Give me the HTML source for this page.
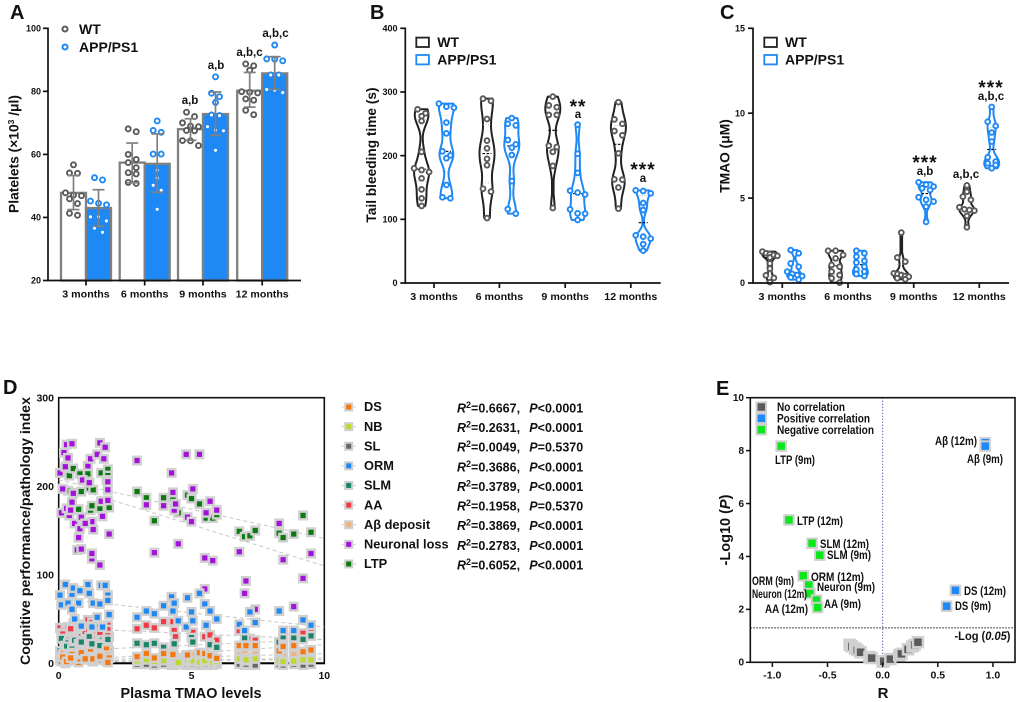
<!DOCTYPE html>
<html lang="en">
<head>
<meta charset="utf-8">
<title>TMAO, platelets and cognitive correlations</title>
<style>
html,body{margin:0;padding:0;background:#fff;}
svg{display:block;}
text{font-family:"Liberation Sans",sans-serif;font-weight:bold;fill:#111;}
</style>
</head>
<body>
<svg id="fig" xmlns="http://www.w3.org/2000/svg" width="1020" height="702" viewBox="0 0 1020 702">
  <rect width="1020" height="702" fill="#fff"/>
  <g id="panelA"></g>
  <g id="panelB"></g>
  <g id="panelC"></g>
  <g id="panelD"></g>
  <g id="panelE"></g>

  <text x="10" y="19" font-size="20">A</text>
  <text x="370" y="19" font-size="20">B</text>
  <text x="720" y="19" font-size="20">C</text>
  <text x="3" y="394" font-size="20">D</text>
  <text x="716" y="395" font-size="20">E</text>

  <text transform="translate(18.5,154) rotate(-90)" text-anchor="middle" font-size="13.8">Platelets (×10<tspan font-size="8.5" dy="-4.5">3</tspan><tspan dy="4.5"> /μl)</tspan></text>
  <text transform="translate(376,155) rotate(-90)" text-anchor="middle" font-size="13.7">Tail bleeding time (s)</text>
  <text transform="translate(729.5,156) rotate(-90)" text-anchor="middle" font-size="13.8">TMAO (μM)</text>
  <text transform="translate(30,531) rotate(-90)" text-anchor="middle" font-size="14" textLength="268" lengthAdjust="spacingAndGlyphs">Cognitive performance/pathology index</text>
  <text x="191" y="698" text-anchor="middle" font-size="14.5" textLength="141" lengthAdjust="spacingAndGlyphs">Plasma TMAO levels</text>
  <text transform="translate(730,530) rotate(-90)" text-anchor="middle" font-size="14.5">-Log10 (<tspan font-style="italic">P</tspan>)</text>
  <text x="883" y="698" text-anchor="middle" font-size="15">R</text>

  <g font-size="11.5" text-anchor="middle" fill="#111">
    <text x="190" y="104">a,b</text>
    <text x="216" y="69">a,b</text>
    <text x="249.5" y="56">a,b,c</text>
    <text x="275.5" y="37">a,b,c</text>
    <text x="578" y="118">a</text>
    <text x="643" y="182">a</text>
    <text x="925" y="175">a,b</text>
    <text x="991" y="100">a,b,c</text>
    <text x="966" y="178">a,b,c</text>
  </g>
  <g font-size="19" text-anchor="middle">
    <text x="578" y="113" letter-spacing="1">**</text>
    <text x="643" y="176" letter-spacing="1">***</text>
    <text x="925" y="169" letter-spacing="1">***</text>
    <text x="991" y="94" letter-spacing="1">***</text>
  </g>

  <g font-size="11.5">
    <text x="775" y="464" textLength="40" lengthAdjust="spacingAndGlyphs">LTP (9m)</text>
    <text x="935" y="445" textLength="42" lengthAdjust="spacingAndGlyphs">Aβ (12m)</text>
    <text x="967" y="463" textLength="36" lengthAdjust="spacingAndGlyphs">Aβ (9m)</text>
    <text x="797" y="525" textLength="46" lengthAdjust="spacingAndGlyphs">LTP (12m)</text>
    <text x="820" y="548" textLength="49" lengthAdjust="spacingAndGlyphs">SLM (12m)</text>
    <text x="827" y="559" textLength="44" lengthAdjust="spacingAndGlyphs">SLM (9m)</text>
    <text x="811" y="581" textLength="53" lengthAdjust="spacingAndGlyphs">ORM (12m)</text>
    <text x="752" y="585" textLength="42" lengthAdjust="spacingAndGlyphs">ORM (9m)</text>
    <text x="817" y="591" textLength="58" lengthAdjust="spacingAndGlyphs">Neuron (9m)</text>
    <text x="752" y="598" textLength="55" lengthAdjust="spacingAndGlyphs">Neuron (12m)</text>
    <text x="824" y="608" textLength="37" lengthAdjust="spacingAndGlyphs">AA (9m)</text>
    <text x="765" y="613" textLength="43" lengthAdjust="spacingAndGlyphs">AA (12m)</text>
    <text x="964" y="595" textLength="42" lengthAdjust="spacingAndGlyphs">DS (12m)</text>
    <text x="955" y="610" textLength="36" lengthAdjust="spacingAndGlyphs">DS (9m)</text>
    <text x="954.5" y="640" textLength="56" lengthAdjust="spacingAndGlyphs">-Log (<tspan font-style="italic">0.05</tspan>)</text>
    <text x="777" y="411" textLength="68" lengthAdjust="spacingAndGlyphs">No correlation</text>
    <text x="777" y="422.5" textLength="93" lengthAdjust="spacingAndGlyphs">Positive correlation</text>
    <text x="777" y="434" textLength="97" lengthAdjust="spacingAndGlyphs">Negative correlation</text>
  </g>
</svg>

<script>
/* ---------- Shared categories ---------- */
const months = ['3 months', '6 months', '9 months', '12 months'];

/* ---------- Panel A: platelets ---------- */
const aTicks = [20, 40, 60, 80, 100];
const aWtMeans = [47.8, 57.4, 68, 80.2];
const aAppMeans = [43, 57, 72.8, 85.7];
const aWtUpper = [53.3, 63.6, 71.3, 86];
const aWtLower = [42.5, 51, 64.5, 75];
const aAppUpper = [48.8, 66.5, 79.8, 91];
const aAppLower = [37.2, 48, 66, 80.6];
const aWtPoints = [
  [56.7, 54.1, 54, 47.8, 47.1, 46.9, 45.9, 44.4, 41.3, 40.7],
  [68.1, 67.2, 60, 58.4, 57.4, 55.8, 54.2, 53.8, 51.1, 50.8],
  [73.4, 72, 70, 69, 68.8, 67.6, 67.5, 64.4, 64.3, 62.8],
  [88.7, 88.1, 86.7, 79.9, 79.7, 79.5, 77.6, 77.2, 74, 72.6]
];
const aAppPoints = [
  [52.6, 51.9, 45.2, 44.5, 44, 40.2, 40.2, 38.9, 36.6, 35.3],
  [70.6, 67.6, 67, 60.1, 60.1, 55, 52.5, 50.2, 48.6, 42.6],
  [84.6, 79.4, 78.3, 76.5, 72.5, 72.3, 68.8, 67.7, 67.5, 61.3],
  [94.7, 90.3, 90.2, 89.7, 85.2, 85.2, 80.6, 80.4, 79.6]
];

/* ---------- Panel B: tail bleeding time ---------- */
const bTicks = [0, 100, 200, 300, 400];
const bWt = [
  [272.8, 266.5, 262, 254.5, 206, 180, 177.5, 174.4, 164.4, 147, 133, 121],
  [289.5, 286, 257.6, 223.6, 211.5, 195, 185, 148, 143.5, 102],
  [292.7, 279, 276, 264, 264, 215.7, 213.6, 206, 184, 117.8],
  [284, 257, 250, 238.7, 232, 203.7, 162.8, 162.3, 150, 116.8]
];
const bApp = [
  [281.7, 277, 275.4, 252, 235, 206.8, 200.5, 196, 154, 134.6, 133],
  [259, 250, 247.6, 224.6, 217.8, 212.6, 201, 160, 116, 109],
  [248.7, 203, 173, 145, 142, 139, 115.7, 109.4, 109, 99],
  [145.5, 144.5, 140.8, 125.6, 114.6, 74.9, 72.8, 69.6, 61, 50.8]
];

/* ---------- Panel C: TMAO ---------- */
const cTicks = [0, 5, 10, 15];
const cWt = [
  [1.85, 1.75, 1.7, 1.65, 1.6, 1.5, 1.15, 0.85, 0.45, 0.3, 0.05],
  [1.9, 1.9, 1.65, 1.45, 1.06, 0.96, 0.67, 0.47, 0.28, 0.02],
  [2.97, 1.5, 1.26, 0.57, 0.53, 0.47, 0.41, 0.37, 0.28, 0.22],
  [5.75, 5.38, 5.09, 4.9, 4.46, 4.34, 4.3, 4.26, 3.95, 3.28]
];
const cApp = [
  [1.94, 1.75, 1.15, 0.96, 0.67, 0.53, 0.47, 0.41, 0.33, 0.2],
  [1.9, 1.75, 1.55, 1.3, 1.2, 0.96, 0.8, 0.67, 0.53, 0.41],
  [5.93, 5.8, 5.68, 5.58, 5.48, 5.05, 4.9, 4.8, 4.5, 3.6],
  [10.37, 9.5, 9.25, 8.86, 8.33, 7.4, 7.15, 7.05, 6.95, 6.76]
];

/* ---------- Panel D: correlation scatter ---------- */
const dXTicks = [0, 5, 10];
const dYTicks = [0, 100, 200, 300];
const tmao = [
  0.05,0.10,0.20,0.25,0.30,0.35,0.40,0.50,0.55,0.60,
  0.70,0.75,0.80,0.85,0.90,1.10,1.15,1.20,1.25,1.30,
  1.45,1.55,1.60,1.65,1.70,1.75,1.80,1.85,1.85,1.90,
  0.15,0.30,0.50,0.85,1.25,1.25,1.55,1.85,0.45,1.00,
  2.95,3.30,3.60,3.95,4.25,4.30,4.35,4.40,4.50,4.80,
  4.85,5.00,5.05,5.30,5.50,5.55,5.70,5.80,5.95,5.50,
  6.80,7.00,7.05,7.20,7.40,8.30,8.45,8.85,9.20,9.50
];
const dsValues = [
  4,2,11,0,6,9,3,12,3,7,
  6,1,5,10,14,4,8,13,7.5,2,
  5,11,4,8,9,3,16,4,9,6,
  7,2,10,12,3,5,8,1,6,5,
  7.5,11,6,11,null,10,null,null,null,9,
  9.4,null,null,12,11,null,8.6,null,5.6,null,
  20,null,20,null,20,14,19,20,13,15
];
const nbValues = [
  null,null,null,null,null,null,null,null,null,null,
  null,null,null,null,null,null,null,null,null,null,
  null,null,null,null,null,null,null,null,null,null,
  null,null,null,null,null,null,null,null,null,null,
  2.6,4,2,3,1,3,2,4,1,2,
  4,2,3,1,4,2,3,1,2,3,
  5,3,4,null,5,3,2,2.6,4,4
];
const slValues = [
  null,null,null,null,null,null,null,null,null,null,
  null,null,null,null,null,null,null,null,null,null,
  null,null,null,null,null,null,null,null,null,null,
  null,null,null,null,null,null,null,null,null,null,
  -1,-1,-2,-1,-2,-1,-2,-1,-1,-2,
  -1,-2,-1,-2,-1,-2,-1,-2,-1,-1,
  -1,-2,-1,null,-2,-1,-2,-1,-2,-1
];
const ormValues = [
  77,66,null,89,null,68,null,78,85,50,
  null,68,82,42,null,89,79,null,41,68,
  52,67,88,41,null,88,null,77,71,55,
  null,null,61,null,null,null,null,null,null,null,
  52,59,56,65,75,59,68,null,48,41,
  74,58,48,79,67,43,59,null,50,null,
  44,37,null,58,46,59,37,37,49,43
];
const slmValues = [
  14,28,11,20,18,23,9,16,21,26,
  12,22,19,25,15,10,30,19,13,16,
  17,11,21,26,22,9,24,25,18,14,
  10,19,16,24,22,12,20,27,8,12,
  22.6,21,22.6,18,null,null,22,null,null,null,
  null,29,24,null,null,null,21,null,18,null,
  null,29,null,20,null,24,30,29,27,31
];
const aaValues = [
  40,34,27,38,32,41,29,34,45,36,
  28,35,39,31,44,49,37,30,46,32,
  41,29,32,36,27,38,34,43,38,30,
  33,26,37,30,42,28,35,31,39,36,
  39,43,40,47,null,47,37,30,null,null,
  null,34,35,null,30,null,32,null,26,null,
  37,null,null,28,26,24,29,30,34,36
];
const abetaValues = [
  null,null,null,null,null,null,null,null,null,null,
  null,null,null,null,null,null,null,null,null,null,
  null,null,null,null,null,null,null,null,null,null,
  null,null,null,null,null,null,null,null,null,null,
  5,8,4,7,5,12,9,6,4,7,
  8,5,10,7,6,9,4,7,5,8,
  9,11,6,null,10,9,8,10,7,5
];
const neuronValues = [
  215,170,238,222,247,232,167,248,192,158,
  128,142,152,165,207,223,204,231,118,151,
  236,249,183,166,231,244,207,205,196,146,
  197,175,182,129,124,160,111,184,173,158,
  229,179,125,178,215,193,173,180,135,236,
  165,160,197,236,119,170,183,116,173,84,
  126,79,93,null,61,158,117,64,96,124
];
const ltpValues = [
  null,null,null,null,null,195,212,null,220,null,
  null,174,214,194,null,214,198,173,null,196,
  null,175,215,null,null,null,null,219,212,176,
  null,null,null,null,178,null,null,null,null,null,
  194,187,161,187,null,186,null,null,170,null,
  190,186,null,180,null,164,null,164,168,null,
  149,143,null,144,150,147,142,146,167,148
];
const seriesNames = ['DS','NB','SL','ORM','SLM','AA','Aβ deposit','Neuronal loss','LTP'];
const seriesColors = ['#f5780f','#bcd92e','#666666','#1e88f5','#1b8468','#f23a45','#eeb380','#a511dc','#0a7a10'];
const seriesValues = [dsValues,nbValues,slValues,ormValues,slmValues,aaValues,abetaValues,neuronValues,ltpValues];
const fitAtZero = [3,1,3,73,14,40,3,203,207];
const fitAtTen = [21,6,4,41,27,27,11,110,141];
const rSquared = ['0.6667','0.2631','0.0049','0.3686','0.3789','0.1958','0.3869','0.2783','0.6052'];
const pValues = ['<0.0001','<0.0001','=0.5370','<0.0001','<0.0001','=0.5370','<0.0001','<0.0001','<0.0001'];

/* ---------- Panel E: volcano ---------- */
const eXTicks = [-1, -0.5, 0, 0.5, 1];
const eYTicks = [0, 2, 4, 6, 8, 10];
const noneR = [-0.3,-0.28,-0.25,-0.23,-0.2,-0.12,-0.1,0,0.01,0.07,0.15,0.17,0.23,0.27,0.29,0.32];
const noneP = [0.66,0.6,0.52,0.46,0.38,0.2,0.16,0.02,0.04,0.12,0.27,0.32,0.49,0.6,0.66,0.76];
const posR = [0.93,0.66,0.58,0.93];
const posP = [8.3,2.72,2.12,8.17];
const negR = [-0.92,-0.85,-0.64,-0.57,-0.72,-0.67,-0.66,-0.6,-0.59];
const negP = [8.17,5.38,4.5,4.05,3.27,2.92,2.6,2.35,2.07];
const pThreshold = 1.3;

/* ---------- Helpers ---------- */
const NS = 'http://www.w3.org/2000/svg';
const BLUE = '#1e88f5';
const GREY = '#808080';
const DOT_GREY = '#5a5a5a';
function mk(tag, attrs, parent) {
  const el = document.createElementNS(NS, tag);
  for (const k in attrs) el.setAttribute(k, attrs[k]);
  parent.appendChild(el);
  return el;
}
function label(parent, x, y, str, size, anchor) {
  const t = mk('text', {x: x, y: y, 'font-size': size, 'text-anchor': anchor || 'middle'}, parent);
  t.textContent = str;
  
  
  return t;
}
function line(parent, x1, y1, x2, y2, stroke, width, dash) {
  const l = mk('line', {x1: x1, y1: y1, x2: x2, y2: y2, stroke: stroke, 'stroke-width': width}, parent);
  if (dash) l.setAttribute('stroke-dasharray', dash);
  return l;
}
function linear(d0, d1, r0, r1) {
  return function (v) { return r0 + (v - d0) * (r1 - r0) / (d1 - d0); };
}
/* Prism-like binned dot placement: offsets depend only on the values. */
function binOffsets(values, toY, binPx, spacing, maxHalf) {
  const order = values.map(function (v, i) { return i; }).sort(function (a, b) { return values[b] - values[a]; });
  const offsets = new Array(values.length).fill(0);
  let i = 0;
  while (i < order.length) {
    const y0 = toY(values[order[i]]);
    let j = i;
    while (j < order.length && toY(values[order[j]]) - y0 < binPx) j++;
    const n = j - i;
    const step = n > 1 ? Math.min(spacing, 2 * maxHalf / (n - 1)) : 0;
    for (let k = 0; k < n; k++) offsets[order[i + k]] = (k - (n - 1) / 2) * step;
    i = j;
  }
  return offsets;
}
function dots(parent, cx, values, toY, stroke, binPx, spacing, maxHalf, r, name) {
  const offs = binOffsets(values, toY, binPx, spacing, maxHalf);
  values.forEach(function (v, i) {
    const c = mk('circle', {cx: cx + offs[i], cy: toY(v), r: r, fill: '#fff', stroke: stroke, 'stroke-width': 1.9}, parent);
    
    
  });
}
function quantile(sorted, q) {
  const p = (sorted.length - 1) * q, lo = Math.floor(p), hi = Math.ceil(p);
  return sorted[lo] + (sorted[hi] - sorted[lo]) * (p - lo);
}
function violin(parent, cx, values, toY, color, maxHalf, name) {
  const sorted = values.slice().sort(function (a, b) { return a - b; });
  const min = sorted[0], max = sorted[sorted.length - 1], h = (max - min) * 0.095, steps = 48;
  const dens = [];
  for (let i = 0; i <= steps; i++) {
    const y = min + (max - min) * i / steps;
    dens.push(values.reduce(function (s, v) { return s + Math.exp(-0.5 * Math.pow((y - v) / h, 2)); }, 0));
  }
  const peak = Math.max.apply(null, dens);
  const left = [], right = [];
  dens.forEach(function (d, i) {
    const y = toY(min + (max - min) * i / steps), w = Math.max(0.8, d / peak * maxHalf);
    left.push((cx - w).toFixed(2) + ',' + y.toFixed(2));
    right.unshift((cx + w).toFixed(2) + ',' + y.toFixed(2));
  });
  const shape = mk('path', {d: 'M' + left.concat(right).join('L') + 'Z', fill: '#fff', stroke: color, 'stroke-width': 2, 'stroke-linejoin': 'round'}, parent);
  
  
  const med = toY(quantile(sorted, 0.5));
  line(parent, cx - 4.5, med, cx + 4.5, med, '#000', 1.1, '2.5 1.5');
  line(parent, cx - 4, toY(quantile(sorted, 0.25)), cx + 4, toY(quantile(sorted, 0.25)), '#aaa', 0.7, '1 1.5');
  line(parent, cx - 4, toY(quantile(sorted, 0.75)), cx + 4, toY(quantile(sorted, 0.75)), '#aaa', 0.7, '1 1.5');
}
function axes(parent, x0, x1, yTop, yBot, yTicks, toY, centers, labelY, yLabelX) {
  const yAxis = line(parent, x0, yTop - 0.8, x0, yBot + 0.8, '#111', 1.7);
  
  
  const xAxis = line(parent, x0 - 0.8, yBot, x1, yBot, '#111', 1.7);
  
  
  yTicks.forEach(function (t) {
    line(parent, x0 - 5, toY(t), x0, toY(t), '#111', 1.7);
    label(parent, yLabelX, toY(t) + 3.2, String(t), 9, 'end');
  });
  centers.forEach(function (c, i) {
    line(parent, c, yBot, c, yBot + 5, '#111', 1.7);
    const t = label(parent, c, labelY, months[i], 10.5);
    t.setAttribute('textLength', i === 3 ? 53 : 47.5);
    t.setAttribute('lengthAdjust', 'spacingAndGlyphs');
  });
}
function violinLegend(parent, x, y1, y2, textX) {
  [[y1, '#222', 'WT'], [y2, BLUE, 'APP/PS1']].forEach(function (e) {
    const r = mk('rect', {x: x, y: e[0] - 4.7, width: 12.6, height: 9.4, fill: '#fff', stroke: e[1], 'stroke-width': 1.8}, parent);
    
    
    const t = label(parent, textX, e[0] + 4.9, e[2], 14, 'start');
    
  });
}
function square(parent, x, y, outer, inner, color, name) {
  const h = mk('rect', {x: x - outer / 2, y: y - outer / 2, width: outer, height: outer, fill: '#d0d0d0'}, parent);
  
  
  const c = mk('rect', {x: x - inner / 2, y: y - inner / 2, width: inner, height: inner, fill: color}, parent);
  
  
}

/* ---------- Draw panel A ---------- */
(function () {
  const g = document.getElementById('panelA');
  const y = linear(20, 100, 280.5, 28.3);
  const centers = [86, 144.7, 203, 262.2];
  const bw = 25;
  centers.forEach(function (c, i) {
    [[c - bw / 2, aWtMeans[i], aWtUpper[i], aWtLower[i], aWtPoints[i], '#fff', DOT_GREY, 'wt'],
     [c + bw / 2, aAppMeans[i], aAppUpper[i], aAppLower[i], aAppPoints[i], BLUE, BLUE, 'app']].forEach(function (s) {
      const bar = mk('rect', {x: s[0] - bw / 2, y: y(s[1]), width: bw, height: y(20) - y(s[1]), fill: s[5], stroke: GREY, 'stroke-width': 2.3}, g);
      
      
      dots(g, s[0], s[4], y, s[6], 5.5, 8, 11, 2.5, 'point-' + s[7]);
      line(g, s[0], y(s[2]), s[0], y(s[3]), GREY, 1.7);
      line(g, s[0] - 6, y(s[2]), s[0] + 6, y(s[2]), GREY, 1.7);
      line(g, s[0] - 6, y(s[3]), s[0] + 6, y(s[3]), GREY, 1.7);
    });
  });
  axes(g, 48, 301, 28.3, 280.5, aTicks, y, centers, 297.5, 41);
  [[29, DOT_GREY, 'WT'], [47, BLUE, 'APP/PS1']].forEach(function (e) {
    const c = mk('circle', {cx: 65, cy: e[0], r: 2.5, fill: '#fff', stroke: e[1], 'stroke-width': 2}, g);
    
    
    const t = label(g, 79, e[0] + 4.9, e[2], 14, 'start');
    
  });
})();

/* ---------- Draw panels B and C ---------- */
function drawViolinPanel(id, wt, app, ticks, yMax, x0, x1, centers, yLabelX, legX, legTextX, labelY) {
  const g = document.getElementById(id);
  const y = linear(0, yMax, 283, 28.3);
  centers.forEach(function (c, i) {
    violin(g, c - 12.4, wt[i], y, '#222', 7.5, 'violin-wt');
    dots(g, c - 12.4, wt[i], y, DOT_GREY, 4.5, 8, 7.5, 2.4, 'point-wt');
    violin(g, c + 12.4, app[i], y, BLUE, 7.5, 'violin-app');
    dots(g, c + 12.4, app[i], y, BLUE, 4.5, 8, 7.5, 2.4, 'point-app');
  });
  axes(g, x0, x1, 28.3, 283, ticks, y, centers, labelY, yLabelX);
  violinLegend(g, legX, 42.3, 59.7, legTextX);
}
drawViolinPanel('panelB', bWt, bApp, bTicks, 400, 405.3, 660.7, [434, 499.4, 565.2, 630.8], 397.5, 416.3, 437.3, 300);
drawViolinPanel('panelC', cWt, cApp, cTicks, 15, 753, 1009, [782.3, 848, 913.7, 979.3], 745, 764.3, 785, 300);

/* ---------- Draw panel D ---------- */
(function () {
  const g = document.getElementById('panelD');
  const x = linear(0, 10, 58.7, 324.3);
  const y = linear(0, 300, 663.3, 397.7);
  const frame = mk('rect', {x: 58.7, y: 397.7, width: 265.6, height: 265.6, fill: 'none', stroke: '#111', 'stroke-width': 1.6}, g);
  
  
  const base = line(g, 58, y(0), 325, y(0), '#000', 2);
  
  
  for (let s = seriesValues.length - 1; s >= 0; s--) {
    const fit = line(g, x(0), y(fitAtZero[s]), x(10), y(fitAtTen[s]), '#c6c6c6', 1, '4 3');
    
    
  }
  for (let s = seriesValues.length - 1; s >= 0; s--) {
    seriesValues[s].forEach(function (v, i) {
      if (v === null || v === undefined) return;
      square(g, x(tmao[i]), y(v), 10, 5.2, seriesColors[s], 'point-' + seriesNames[s].toLowerCase().replace(/[^a-z]+/g, '-'));
    });
  }
  dYTicks.forEach(function (t) { label(g, 54, y(t) + 3.6, String(t), 10.5, 'end'); });
  dXTicks.forEach(function (t) { label(g, x(t), 679, String(t), 10.5); });

  seriesNames.forEach(function (name, i) {
    const ly = 407 + i * 19.62;
    const dash = line(g, 341.5, ly, 356, ly, '#d0d0d0', 1);
    
    
    square(g, 348.7, ly, 9, 5, seriesColors[i], 'legend-marker');
    const t = label(g, 364, ly + 4.2, name, 12.8, 'start');
    
    const st = mk('text', {x: 457, y: ly + 5.5, 'font-size': 12.5}, g);
    
    
    const r = mk('tspan', {'font-style': 'italic'}, st);
    r.textContent = 'R';
    const sup = mk('tspan', {dy: -4.5, 'font-size': 9}, st);
    sup.textContent = '2';
    const val = mk('tspan', {dy: 4.5}, st);
    val.textContent = '=' + rSquared[i] + ',';
    const pt = mk('text', {x: 529.3, y: ly + 5.5, 'font-size': 12.5}, g);
    
    
    const p = mk('tspan', {'font-style': 'italic'}, pt);
    p.textContent = 'P';
    const pv = mk('tspan', {}, pt);
    pv.textContent = pValues[i];
  });
})();

/* ---------- Draw panel E ---------- */
(function () {
  const g = document.getElementById('panelE');
  const x = linear(-1.2, 1.2, 750.3, 1015);
  const y = linear(0, 10, 662.3, 397.7);
  const v = line(g, x(0), 397.7, x(0), 662.3, '#2a2aa8', 1, '1 2');
  
  
  const h = line(g, 750.3, y(pThreshold), 1015, y(pThreshold), '#111', 1, '1.5 1.5');
  
  
  const frame = mk('rect', {x: 750.3, y: 397.7, width: 264.7, height: 264.6, fill: 'none', stroke: '#111', 'stroke-width': 1.6}, g);
  
  
  noneR.forEach(function (r, i) { square(g, x(r), y(noneP[i]), 12.5, 7.5, '#5a5a5a', 'point-no-correlation'); });
  posR.forEach(function (r, i) { square(g, x(r), y(posP[i]), 11.5, 7.5, BLUE, 'point-positive-correlation'); });
  negR.forEach(function (r, i) { square(g, x(r), y(negP[i]), 11.5, 7.5, '#0be81a', 'point-negative-correlation'); });
  eYTicks.forEach(function (t) {
    line(g, 746, y(t), 750.3, y(t), '#111', 1.5);
    label(g, 744, y(t) + 3.3, String(t), 10, 'end');
  });
  eXTicks.forEach(function (t) {
    line(g, x(t), 662.3, x(t), 667, '#111', 1.5);
    label(g, x(t), 678.5, t.toFixed(1), 10.5);
  });
  [[407, '#5a5a5a', 'legend-marker-no-correlation'], [418.3, BLUE, 'legend-marker-positive'], [429.7, '#0be81a', 'legend-marker-negative']].forEach(function (e) {
    square(g, 761.3, e[0], 11.5, 7.5, e[1], e[2]);
  });
})();
</script>
</body>
</html>
